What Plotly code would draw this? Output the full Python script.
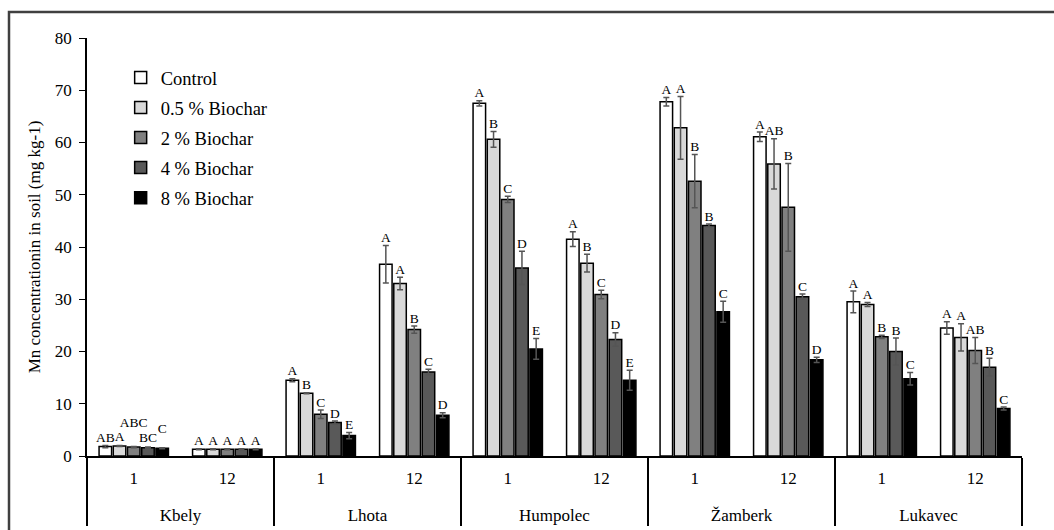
import plotly.graph_objects as go

sites = ["Kbely", "Lhota", "Humpolec", "Žamberk", "Lukavec"]
times = ["1", "12"]
series = ["Control", "0.5 % Biochar", "2 % Biochar", "4 % Biochar", "8 % Biochar"]
colors = ["#ffffff", "#d9d9d9", "#808080", "#595959", "#000000"]

# values per series, order: Kbely1, Kbely12, Lhota1, Lhota12, Humpolec1, Humpolec12, Zamberk1, Zamberk12, Lukavec1, Lukavec12
values = [
    [1.8, 1.3, 14.5, 36.7, 67.5, 41.5, 67.8, 61.1, 29.5, 24.5],
    [1.9, 1.3, 12.0, 33.0, 60.6, 36.9, 62.8, 55.9, 29.0, 22.7],
    [1.7, 1.3, 8.0, 24.2, 49.1, 30.9, 52.6, 47.6, 22.8, 20.2],
    [1.6, 1.3, 6.4, 16.1, 36.0, 22.3, 44.1, 30.5, 20.0, 17.0],
    [1.5, 1.3, 3.9, 7.8, 20.5, 14.5, 27.6, 18.4, 14.8, 9.1],
]
errors = [
    [0.2, 0.1, 0.3, 3.6, 0.5, 1.4, 0.8, 0.9, 2.1, 1.2],
    [0.1, 0.1, 0.1, 1.2, 1.5, 1.7, 6.0, 4.8, 0.4, 2.6],
    [0.1, 0.1, 0.8, 0.7, 0.6, 0.8, 5.1, 8.4, 0.3, 2.5],
    [0.1, 0.1, 0.3, 0.5, 3.2, 1.3, 0.3, 0.5, 2.6, 1.7],
    [0.1, 0.1, 0.6, 0.5, 2.0, 1.9, 2.0, 0.5, 1.2, 0.3],
]
letters = [
    ["AB", "A", "A", "A", "A", "A", "A", "A", "A", "A"],
    ["A", "A", "B", "A", "B", "B", "A", "AB", "A", "A"],
    ["ABC", "A", "C", "B", "C", "C", "B", "B", "B", "AB"],
    ["BC", "A", "D", "C", "D", "D", "B", "C", "B", "B"],
    ["C", "A", "E", "D", "E", "E", "C", "D", "C", "C"],
]
# extra lift of a few crowded labels (style)
lift = [
    [0, 0, 0, 0, 0, 0, 0, 0, 0, 0],
    [0.3, 0, 0, 0, 0, 0, 0, 0, 0, 0],
    [3.2, 0, 0, 0, 0, 0, 0, 0, 0, 0],
    [0.4, 0, 0, 0, 0, 0, 0, 0, 0, 0],
    [2.2, 0, 0, 0, 0, 0, 0, 0, 0, 0],
]

site_labels = ["<br>" + s for s in sites]
xs = [[s for s in site_labels for _ in times], [t for _ in sites for t in times]]

FONT = "Liberation Serif"
fig = go.Figure()
for i, name in enumerate(series):
    fig.add_trace(go.Bar(
        x=xs, y=values[i], name=name, legendgroup=name,
        marker=dict(color=colors[i], line=dict(color="#000000", width=1.5)),
        error_y=dict(type="data", array=errors[i], color="#555555", thickness=1.5, width=3),
        offsetgroup=str(i),
    ))
for i, name in enumerate(series):
    fig.add_trace(go.Scatter(
        x=xs, y=[v + e + l for v, e, l in zip(values[i], errors[i], lift[i])],
        mode="text", text=letters[i], textposition="top center",
        textfont=dict(family=FONT, size=13.5, color="#000000"),
        showlegend=False, hoverinfo="skip", offsetgroup=str(i), cliponaxis=False,
    ))

fig.update_layout(
    width=1054, height=530,
    margin=dict(l=87, r=32, t=38, b=74),
    paper_bgcolor="white", plot_bgcolor="white",
    barmode="group", bargap=0.24, bargroupgap=0.12,
    scattermode="group", scattergap=0.24,
    font=dict(family=FONT, size=17, color="#000000"),
    legend=dict(x=0.036, y=0.95, xanchor="left", yanchor="top",
                font=dict(family=FONT, size=18.5), tracegroupgap=3,
                bgcolor="rgba(0,0,0,0)", itemwidth=30),
    showlegend=True,
)
fig.update_yaxes(range=[0, 80], dtick=10, showgrid=False, zeroline=False,
                 showline=True, linecolor="#000000", linewidth=1.5,
                 ticks="outside", ticklen=6, tickcolor="#000000", automargin=False,
                 tickfont=dict(family=FONT, size=17), ticklabelstandoff=4,
                 title=dict(text="Mn concentrationin in soil (mg kg-1)",
                            font=dict(family=FONT, size=17), standoff=10))
fig.update_xaxes(type="multicategory", showline=True, linecolor="#000000", linewidth=1.5,
                 showdividers=True, dividercolor="#000000", dividerwidth=1.5, automargin=False,
                 ticks="", tickfont=dict(family=FONT, size=17), showgrid=False,
                 ticklabelstandoff=6)

# outer frame of chart (top and left visible)
fig.add_shape(type="rect", xref="paper", yref="paper", x0=-78/935, x1=1.1, y0=-0.3, y1=1 + 26/418,
              line=dict(color="#404040", width=2.5), layer="below")

fig.write_html("out.html", post_script="document.body.style.margin='0';",
               config={"displayModeBar": False})
